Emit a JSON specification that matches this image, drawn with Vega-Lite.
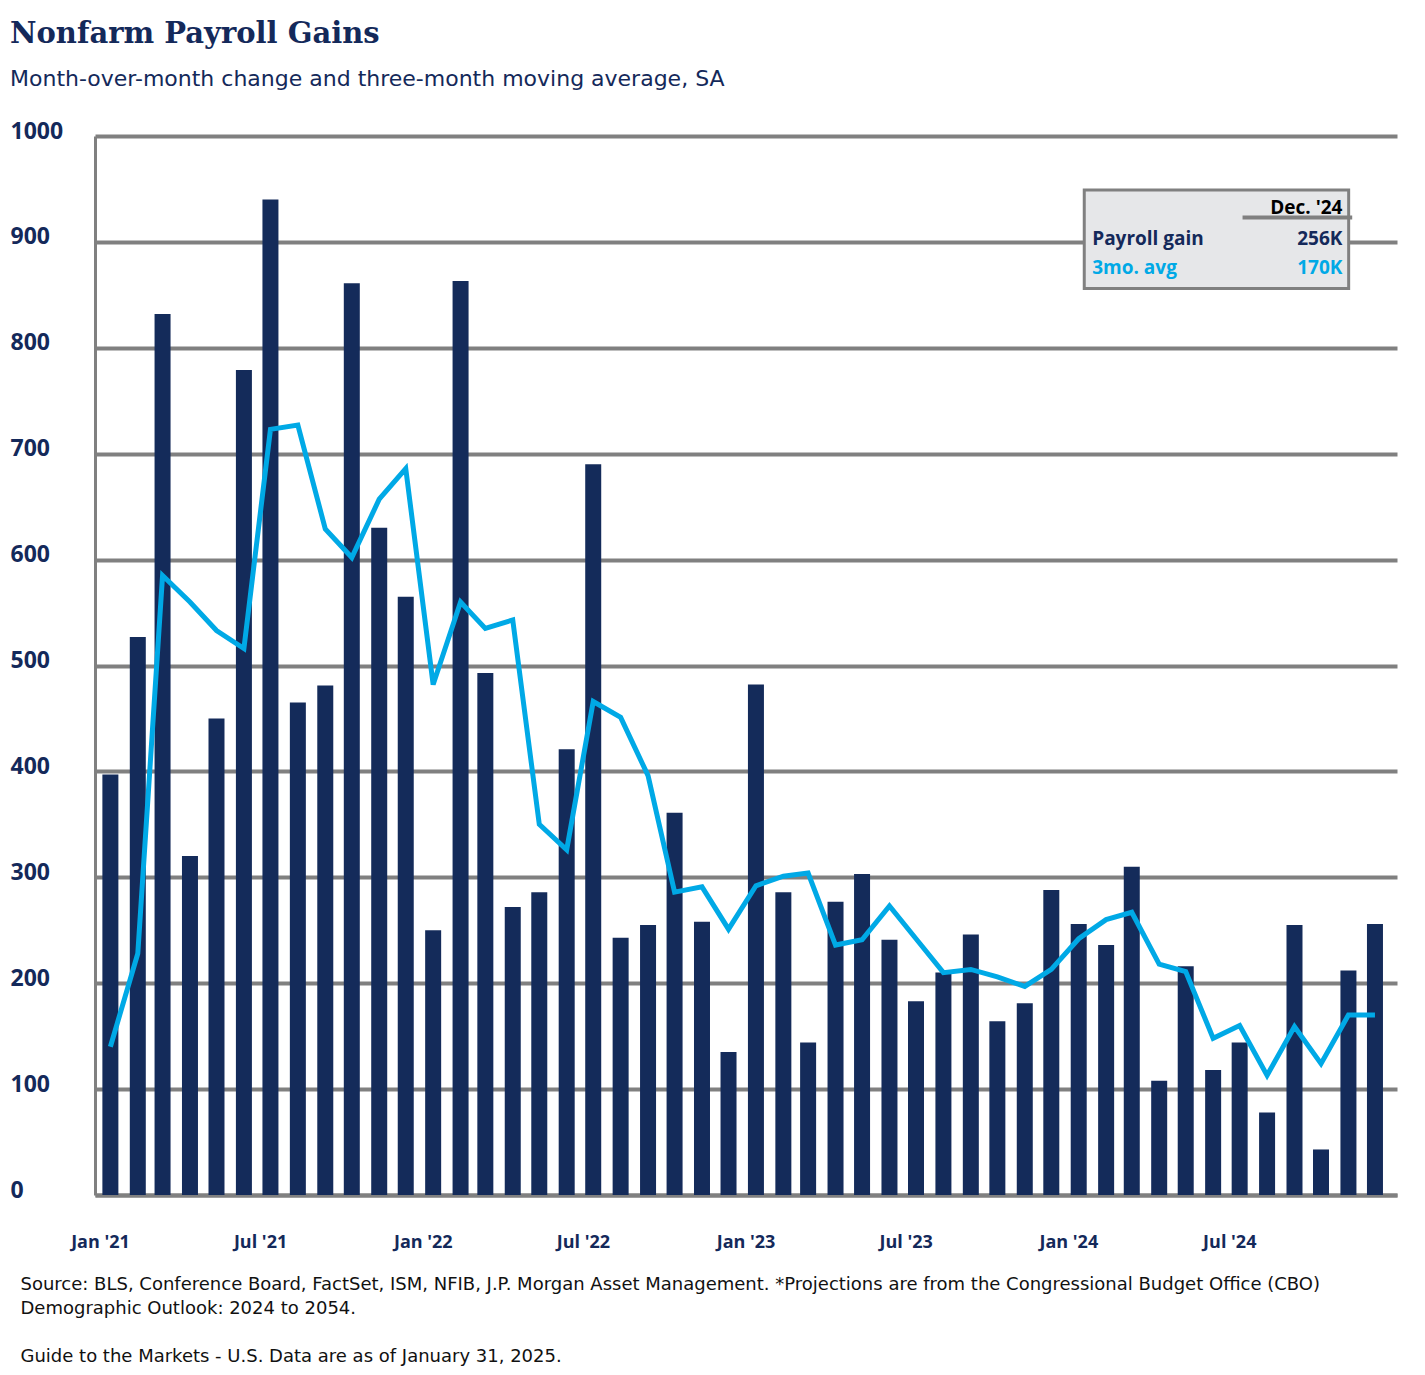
{
"$schema":"https://vega.github.io/schema/vega-lite/v6.json",
"width":1302,"height":1059,
"padding":{"left":10,"top":20,"right":28,"bottom":10},
"background":"white",
"title":{"text":"Nonfarm Payroll Gains","subtitle":"Month-over-month change and three-month moving average, SA","anchor":"start","frame":"bounds","font":"DejaVu Serif","fontSize":29,"fontWeight":"bold","color":"#14295a","subtitleFont":"DejaVu Sans","subtitleFontSize":22,"subtitleColor":"#14295a","subtitlePadding":20,"offset":30},
"config":{"view":{"stroke":null},"font":"Open Sans"},
"datasets":{
"m":[
{"d":"2021-01-15","v":397,"a":140},{"d":"2021-02-15","v":527,"a":228},{"d":"2021-03-15","v":832,"a":585},{"d":"2021-04-15","v":320,"a":560},{"d":"2021-05-15","v":450,"a":533},{"d":"2021-06-15","v":779,"a":516},{"d":"2021-07-15","v":940,"a":723},{"d":"2021-08-15","v":465,"a":727},{"d":"2021-09-15","v":481,"a":629},{"d":"2021-10-15","v":861,"a":602},{"d":"2021-11-15","v":630,"a":657},{"d":"2021-12-15","v":565,"a":686},
{"d":"2022-01-15","v":250,"a":482},{"d":"2022-02-15","v":863,"a":560},{"d":"2022-03-15","v":493,"a":535},{"d":"2022-04-15","v":272,"a":543},{"d":"2022-05-15","v":286,"a":350},{"d":"2022-06-15","v":421,"a":326},{"d":"2022-07-15","v":690,"a":466},{"d":"2022-08-15","v":243,"a":451},{"d":"2022-09-15","v":255,"a":396},{"d":"2022-10-15","v":361,"a":286},{"d":"2022-11-15","v":258,"a":291},{"d":"2022-12-15","v":135,"a":251},
{"d":"2023-01-15","v":482,"a":292},{"d":"2023-02-15","v":286,"a":301},{"d":"2023-03-15","v":144,"a":304},{"d":"2023-04-15","v":277,"a":236},{"d":"2023-05-15","v":303,"a":241},{"d":"2023-06-15","v":241,"a":273},{"d":"2023-07-15","v":183,"a":242},{"d":"2023-08-15","v":210,"a":210},{"d":"2023-09-15","v":246,"a":213},{"d":"2023-10-15","v":164,"a":206},{"d":"2023-11-15","v":181,"a":197},{"d":"2023-12-15","v":288,"a":213},
{"d":"2024-01-15","v":256,"a":242},{"d":"2024-02-15","v":236,"a":260},{"d":"2024-03-15","v":310,"a":267},{"d":"2024-04-15","v":108,"a":218},{"d":"2024-05-15","v":216,"a":211},{"d":"2024-06-15","v":118,"a":148},{"d":"2024-07-15","v":144,"a":160},{"d":"2024-08-15","v":78,"a":113},{"d":"2024-09-15","v":255,"a":159},{"d":"2024-10-15","v":43,"a":124},{"d":"2024-11-15","v":212,"a":170},{"d":"2024-12-15","v":256,"a":170}
],
"box":[{"x":"2024-01-19","x2":"2024-11-13","y":949,"y2":856}],
"rule":[{"x":"2024-07-16","x2":"2024-11-17","y":923}],
"lt":[{"x":"2024-01-28","y":903,"t":"Payroll gain","s":"p"},{"x":"2024-01-28","y":875,"t":"3mo. avg","s":"a"}],
"rt":[{"x":"2024-11-06","y":932,"t":"Dec. '24","s":"h"},{"x":"2024-11-06","y":903,"t":"256K","s":"p"},{"x":"2024-11-06","y":875,"t":"170K","s":"a"}]
},
"layer":[
{"data":{"name":"m"},"mark":{"type":"bar","size":16,"color":"#142b5a","xOffset":-2},
"encoding":{
"x":{"field":"d","type":"temporal","scale":{"domain":["2021-01-01","2025-01-01"]},
"axis":{"values":["2021-01-01","2021-07-01","2022-01-01","2022-07-01","2023-01-01","2023-07-01","2024-01-01","2024-07-01"],"format":"%b '%y","labelFont":"Open Sans","labelFontSize":18,"labelFontWeight":"bold","labelColor":"#14295a","labelPadding":38,"ticks":false,"domainColor":"#808080","domainWidth":4,"grid":false,
"title":["Source: BLS, Conference Board, FactSet, ISM, NFIB, J.P. Morgan Asset Management. *Projections are from the Congressional Budget Office (CBO)","Demographic Outlook: 2024 to 2054.","\u200b","Guide to the Markets - U.S. Data are as of January 31, 2025."],
"titleAnchor":"start","titleAlign":"left","titleX":-75,"titleY":80,"titleBaseline":"top","titleFont":"DejaVu Sans","titleFontSize":18,"titleFontWeight":"normal","titleColor":"#111","titleLineHeight":24}},
"y":{"field":"v","type":"quantitative","scale":{"domain":[0,1000]},
"axis":{"values":[0,100,200,300,400,500,600,700,800,900,1000],"format":"d","title":null,"labelAlign":"left","labelPadding":85,"labelOffset":-5,"labelFont":"Open Sans","labelFontSize":23,"labelFontWeight":"bold","labelColor":"#14295a","ticks":false,"domainColor":"#808080","domainWidth":3,"gridColor":"#808080","gridWidth":4,"gridOpacity":1}}}},
{"data":{"name":"m"},"mark":{"type":"line","color":"#00a9e6","strokeWidth":5,"xOffset":-2},
"encoding":{"x":{"field":"d","type":"temporal"},"y":{"field":"a","type":"quantitative"}}},
{"data":{"name":"box"},"mark":{"type":"rect","fill":"#e6e7e9","stroke":"#808080","strokeWidth":3},
"encoding":{"x":{"field":"x","type":"temporal"},"x2":{"field":"x2"},"y":{"field":"y","type":"quantitative"},"y2":{"field":"y2"}}},
{"data":{"name":"rule"},"mark":{"type":"rule","color":"#808080","strokeWidth":4},
"encoding":{"x":{"field":"x","type":"temporal"},"x2":{"field":"x2"},"y":{"field":"y","type":"quantitative"}}},
{"data":{"name":"lt"},"mark":{"type":"text","align":"left","baseline":"middle","fontSize":19,"fontWeight":"bold","font":"Open Sans"},
"encoding":{"x":{"field":"x","type":"temporal"},"y":{"field":"y","type":"quantitative"},"text":{"field":"t"},
"color":{"field":"s","type":"nominal","scale":{"domain":["h","p","a"],"range":["#000000","#14295a","#00a9e6"]},"legend":null}}},
{"data":{"name":"rt"},"mark":{"type":"text","align":"right","baseline":"middle","fontSize":19,"fontWeight":"bold","font":"Open Sans"},
"encoding":{"x":{"field":"x","type":"temporal"},"y":{"field":"y","type":"quantitative"},"text":{"field":"t"},
"color":{"field":"s","type":"nominal","legend":null}}}
]
}
